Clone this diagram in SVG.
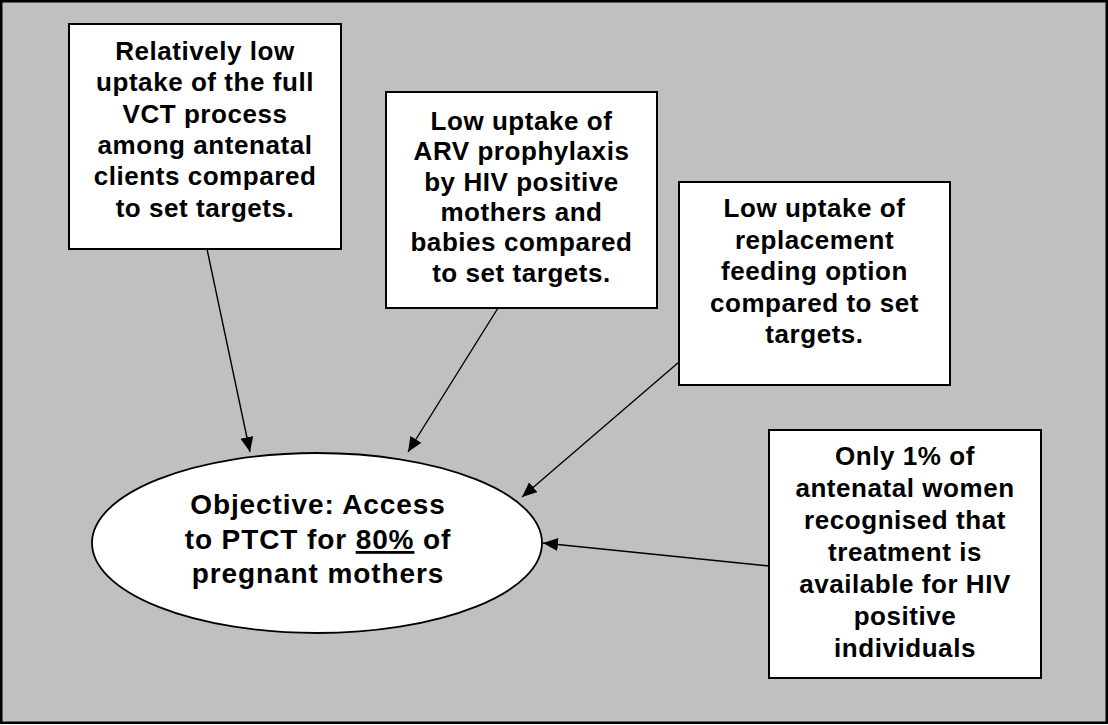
<svg xmlns="http://www.w3.org/2000/svg" width="1108" height="725" viewBox="0 0 1108 725">
<style>
.bg{fill:#c0c0c0;stroke:#000;stroke-width:2.5}
.box{fill:#fff;stroke:#000;stroke-width:2}
.ell{fill:#fff;stroke:#000;stroke-width:1.8}
.t{font-family:"Liberation Sans",Arial,sans-serif;font-weight:bold;font-size:26px;letter-spacing:0.55px;text-anchor:middle;fill:#000}
.te{font-family:"Liberation Sans",Arial,sans-serif;font-weight:bold;font-size:28px;letter-spacing:0.9px;text-anchor:middle;fill:#000}
.c{stroke:#000;stroke-width:1.4;fill:none;marker-end:url(#ah)}
</style>
<defs>
<marker id="ah" markerUnits="userSpaceOnUse" markerWidth="16" markerHeight="14" refX="15" refY="6.5" orient="auto">
<path d="M0,0 L15,6.5 L0,13 z" fill="#000"/>
</marker>
</defs>
<rect class="bg" x="1.25" y="1.25" width="1105.5" height="721.5"/>
<g id="objective">
<ellipse class="ell" cx="317" cy="543" rx="225" ry="90"/>
<text class="te" x="318" y="514">Objective: Access</text>
<text class="te" x="318" y="549">to PTCT for <tspan text-decoration="underline">80%</tspan> of</text>
<text class="te" x="318" y="583">pregnant mothers</text>
</g>
<g id="box-vct">
<rect class="box" x="69" y="24" width="272" height="225"/>
<text class="t" x="205" y="60">Relatively low</text>
<text class="t" x="205" y="91.3">uptake of the full</text>
<text class="t" x="205" y="122.6">VCT process</text>
<text class="t" x="205" y="154">among antenatal</text>
<text class="t" x="205" y="185.3">clients compared</text>
<text class="t" x="205" y="216.6">to set targets.</text>
</g>
<g id="box-arv">
<rect class="box" x="386" y="92" width="271" height="216"/>
<text class="t" x="521.5" y="130">Low uptake of</text>
<text class="t" x="521.5" y="160.3">ARV prophylaxis</text>
<text class="t" x="521.5" y="190.7">by HIV positive</text>
<text class="t" x="521.5" y="221">mothers and</text>
<text class="t" x="521.5" y="251.3">babies compared</text>
<text class="t" x="521.5" y="281.7">to set targets.</text>
</g>
<g id="box-feeding">
<rect class="box" x="679" y="182" width="271" height="203"/>
<text class="t" x="814.5" y="217">Low uptake of</text>
<text class="t" x="814.5" y="248.5">replacement</text>
<text class="t" x="814.5" y="280">feeding option</text>
<text class="t" x="814.5" y="311.5">compared to set</text>
<text class="t" x="814.5" y="343">targets.</text>
</g>
<g id="box-awareness">
<rect class="box" x="769" y="430" width="272" height="248"/>
<text class="t" x="905" y="465">Only 1% of</text>
<text class="t" x="905" y="497">antenatal women</text>
<text class="t" x="905" y="529">recognised that</text>
<text class="t" x="905" y="561">treatment is</text>
<text class="t" x="905" y="593">available for HIV</text>
<text class="t" x="905" y="625">positive</text>
<text class="t" x="905" y="657">individuals</text>
</g>
<g id="connectors">
<line class="c" x1="207" y1="249" x2="250" y2="452"/>
<line class="c" x1="498" y1="308" x2="408" y2="452"/>
<line class="c" x1="679" y1="362" x2="522" y2="497"/>
<line class="c" x1="769" y1="566" x2="543" y2="543"/>
</g>
</svg>
